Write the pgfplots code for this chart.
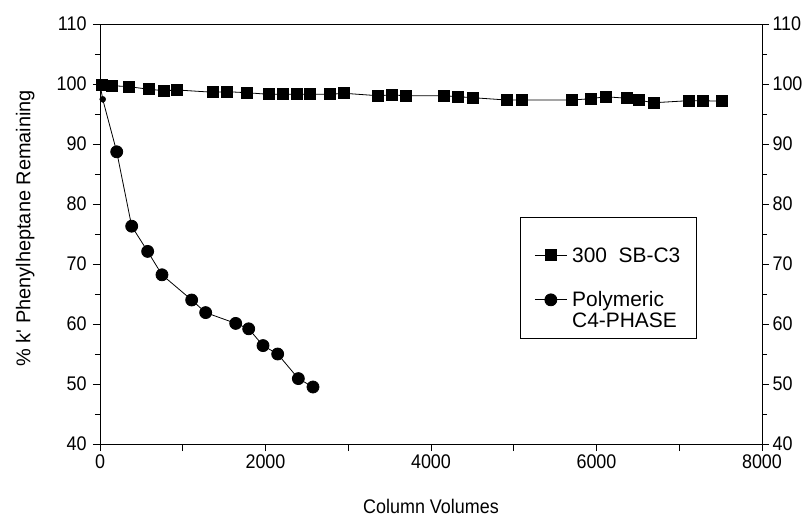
\documentclass[border=0pt]{standalone}
\usepackage{fontspec}
\setmainfont{Liberation Sans}
\usepackage{pgfplots}
\pgfplotsset{compat=1.18}

\begin{document}
\begin{tikzpicture}
\pgfplotsset{
  every axis/.append style={
    scale only axis, width=662bp, height=420bp,
    xmin=0, xmax=8000, ymin=40, ymax=110,
    tick align=outside,
    major tick length=7bp, minor tick length=5bp,
    every tick/.style={black, line width=0.8bp},
    axis line style={line width=0.9bp},
    /pgf/number format/assume math mode=true,
    tick label style={font=\fontsize{18}{20}\selectfont, yscale=1.1},
    ytick={40,50,...,110}, minor ytick={45,55,...,105},
  }
}
\begin{axis}[
  xtick={0,2000,...,8000},
  extra x ticks={1000,3000,5000,7000}, extra x tick labels={},
  x tick label style={/pgf/number format/1000 sep={}},
  y tick label style={xshift=-3bp},
  xtick pos=bottom, ytick pos=left,
  xlabel={Column Volumes}, ylabel={\% k\textquotesingle{} Phenylheptane Remaining},
  xlabel style={font=\fontsize{18}{21}\selectfont, yscale=1.1,
    at={(axis description cs:0.5,-0.148)}, anchor=center},
  ylabel style={font=\fontsize{20}{22}\selectfont,
    at={(axis description cs:-0.113,0.514)}, anchor=center},
  legend style={at={(axis cs:5076,77.8)}, anchor=north west,
    draw=black, line width=0.8bp, inner xsep=14bp, inner ysep=28bp,
    font=\fontsize{21}{21}\selectfont, row sep=24bp, column sep=3bp,
    cells={anchor=base west, inner sep=0bp}},
  legend image code/.code={\draw[mark repeat=2,mark phase=2]
    plot coordinates {(0bp,7bp) (16bp,7bp) (32bp,7bp)};},
]
% 300 SB-C3
\addplot[black, line width=0.8bp, mark=square*, mark size=5.5bp,
  mark options={solid, fill=black}] coordinates {
  (20,99.8) (149,99.72) (350,99.55) (596,99.12) (773,98.88) (934,99.0)
  (1369,98.62) (1535,98.72) (1773,98.55) (2039,98.28) (2208,98.28)
  (2377,98.28) (2538,98.28) (2779,98.28) (2952,98.45) (3356,98.05)
  (3525,98.17) (3698,98.05) (4157,98.05) (4330,97.88) (4504,97.72)
  (4915,97.33) (5096,97.33) (5708,97.33) (5930,97.55) (6111,97.88)
  (6365,97.62) (6517,97.28) (6695,96.88) (7114,97.22) (7284,97.22)
  (7513,97.12)
};
\addlegendentry{300\ \ SB-C3}
% start of the polymeric phase curve
\addplot[forget plot, black, line width=0.8bp, no markers] coordinates {
  (0,100) (33,97.45) (202,88.7)
};
\addplot[forget plot, only marks, black, mark=*, mark size=3bp] coordinates {
  (33,97.45)
};
% Polymeric C4-PHASE
\addplot[black, line width=0.8bp, mark=*, mark size=6bp,
  mark options={solid, fill=black}] coordinates {
  (202,88.7) (383,76.3) (576,72.1) (749,68.2) (1108,64.0) (1277,61.9)
  (1640,60.1) (1797,59.2) (1970,56.4) (2147,55.0) (2397,50.9) (2574,49.5)
};
\addlegendentry{\vtop{\hbox{Polymeric}\hbox{C4-PHASE}}}
\end{axis}
\begin{axis}[
  axis x line=none, axis y line*=right,
]
\end{axis}
\pgfresetboundingbox
\path ([shift={(-100bp,-83bp)}]current axis.south west)
  rectangle ([shift={(42bp,24bp)}]current axis.north east);
\end{tikzpicture}
\end{document}
